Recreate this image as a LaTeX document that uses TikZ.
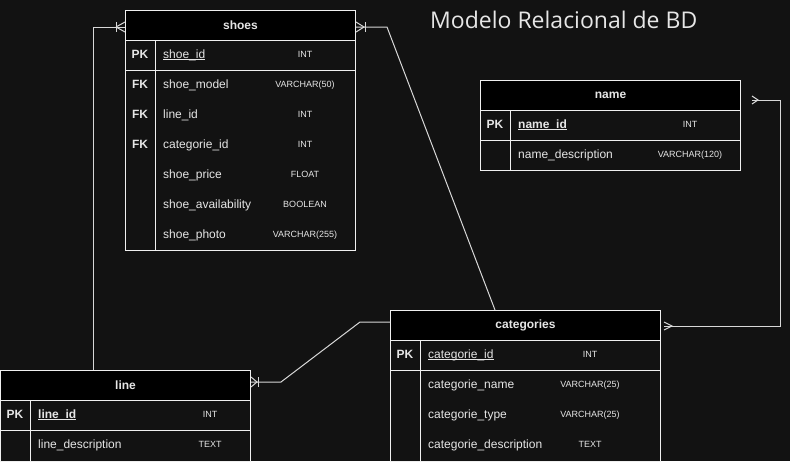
\documentclass[tikz,border=0pt]{standalone}
\usepackage{fontspec}
\setmainfont{Liberation Sans}
\newfontfamily\titlefont{Open Sans}
\usetikzlibrary{calc}
\definecolor{bg}{HTML}{121212}
\definecolor{edge}{HTML}{F0F0F0}
\definecolor{conn}{HTML}{D8D8D8}
\definecolor{txt}{HTML}{E6E6E6}
\tikzset{
  hdr/.style={draw=edge, line width=1pt, fill=black, text=txt, anchor=north west, inner sep=0pt,
    font=\fontsize{12}{14}\selectfont\bfseries},
  bodybox/.style={draw=edge, line width=1pt, fill=bg, anchor=north west, inner sep=0pt},
  keytxt/.style={text=txt, font=\fontsize{12}{14}\selectfont\bfseries, inner sep=0pt,
    text height=9pt, text depth=2pt},
  fld/.style={text=txt, anchor=west, font=\fontsize{12}{14}\selectfont, inner sep=0pt,
    text height=9pt, text depth=2pt},
  typ/.style={text=txt, font=\fontsize{9}{11}\selectfont, inner sep=0pt,
    text height=6.5pt, text depth=1.5pt},
  sep/.style={draw=edge, line width=1pt},
  connline/.style={draw=conn, line width=1pt},
}
\newcommand{\pkf}[1]{\setbox0\hbox{#1}\rlap{\rule[-1.7pt]{\wd0}{0.75pt}}\box0}
\begin{document}
\begin{tikzpicture}[x=1pt,y=-1pt]
\fill[bg] (0,0) rectangle (790,461);
\useasboundingbox (0,0) rectangle (790,461);

% title
\node[text=txt, font=\titlefont\fontsize{23}{26}\selectfont, anchor=west, inner sep=0pt] (title) at (430,20) {Modelo Relacional de BD};

% ---------- shoes ----------
\node[bodybox, minimum width=230pt, minimum height=210pt] (shoesbody) at (125,40) {};
\node[hdr, minimum width=230pt, minimum height=30pt] (shoes) at (125,10) {shoes};
\draw[sep] (125,70) -- (355,70);
\draw[sep] (155,40) -- (155,250);
\node[keytxt] (s1k) at (140,55) {PK};
\node[fld] (s1f) at (163,55) {\pkf{shoe\_id}};
\node[typ] (s1t) at (305,55) {INT};
\node[keytxt] (s2k) at (140,85) {FK};
\node[fld] (s2f) at (163,85) {shoe\_model};
\node[typ] (s2t) at (305,85) {VARCHAR(50)};
\node[keytxt] (s3k) at (140,115) {FK};
\node[fld] (s3f) at (163,115) {line\_id};
\node[typ] (s3t) at (305,115) {INT};
\node[keytxt] (s4k) at (140,145) {FK};
\node[fld] (s4f) at (163,145) {categorie\_id};
\node[typ] (s4t) at (305,145) {INT};
\node[fld] (s5f) at (163,175) {shoe\_price};
\node[typ] (s5t) at (305,175) {FLOAT};
\node[fld] (s6f) at (163,205) {shoe\_availability};
\node[typ] (s6t) at (305,205) {BOOLEAN};
\node[fld] (s7f) at (163,235) {shoe\_photo};
\node[typ] (s7t) at (305,235) {VARCHAR(255)};

% ---------- name ----------
\node[bodybox, minimum width=260pt, minimum height=60pt] (namebody) at (480,110) {};
\node[hdr, minimum width=260pt, minimum height=30pt] (name) at (480,80) {name};
\draw[sep] (480,140) -- (740,140);
\draw[sep] (510,110) -- (510,170);
\node[keytxt] (n1k) at (495,125) {PK};
\node[fld] (n1f) at (518,125) {\bfseries\pkf{name\_id}};
\node[typ] (n1t) at (690,125) {INT};
\node[fld] (n2f) at (518,155) {name\_description};
\node[typ] (n2t) at (690,155) {VARCHAR(120)};

% ---------- categories ----------
\node[bodybox, minimum width=270pt, minimum height=121pt] (catbody) at (390,340) {};
\node[hdr, minimum width=270pt, minimum height=30pt] (categories) at (390,310) {categories};
\draw[sep] (390,370) -- (660,370);
\draw[sep] (420,340) -- (420,461);
\node[keytxt] (c1k) at (405,355) {PK};
\node[fld] (c1f) at (428,355) {\pkf{categorie\_id}};
\node[typ] (c1t) at (590,355) {INT};
\node[fld] (c2f) at (428,385) {categorie\_name};
\node[typ] (c2t) at (590,385) {VARCHAR(25)};
\node[fld] (c3f) at (428,415) {categorie\_type};
\node[typ] (c3t) at (590,415) {VARCHAR(25)};
\node[fld] (c4f) at (428,445) {categorie\_description};
\node[typ] (c4t) at (590,445) {TEXT};

% ---------- line ----------
\node[bodybox, minimum width=250pt, minimum height=61pt] (linebody) at (0,400) {};
\node[hdr, minimum width=250pt, minimum height=30pt] (line) at (0,370) {line};
\draw[sep] (0,430) -- (250,430);
\draw[sep] (30,400) -- (30,461);
\node[keytxt] (l1k) at (15,415) {PK};
\node[fld] (l1f) at (38,415) {\bfseries\pkf{line\_id}};
\node[typ] (l1t) at (210,415) {INT};
\node[fld] (l2f) at (38,445) {line\_description};
\node[typ] (l2t) at (210,445) {TEXT};

% ---------- connectors ----------
% line -> shoes (one-to-many at shoes left)
\coordinate (a1) at ($(line.north west)+(93,0)$);
\coordinate (a2) at ($(shoes.north west)+(0,17)$);
\path[connline] (a1) |- (a2);
\path[connline] ($(a2)+(-9,-5)$) -- ($(a2)+(-9,5)$);
\path[connline] ($(a2)+(-9,0)$) -- ($(a2)+(0,-5)$);
\path[connline] ($(a2)+(-9,0)$) -- ($(a2)+(0,5)$);

% shoes right -> categories top
\coordinate (b1) at ($(shoes.north east)+(0,17)$);
\coordinate (b2) at ($(b1)+(31,0)$);
\coordinate (b3) at ($(categories.north west)+(105,0)$);
\path[connline] (b1) -- (b2) -- (b3);
\path[connline] ($(b1)+(0,-5)$) -- ($(b1)+(8,0)$) -- ($(b1)+(0,5)$);
\path[connline] ($(b1)+(9,-5)$) -- ($(b1)+(9,5)$);

% line right -> categories left
\coordinate (d1) at ($(line.north east)+(0,12)$);
\coordinate (d2) at ($(d1)+(30,0)$);
\coordinate (d3) at ($(categories.north west)+(-30,12)$);
\coordinate (d4) at ($(categories.north west)+(0,12)$);
\path[connline] (d1) -- (d2) -- (d3) -- (d4);
\path[connline] ($(d1)+(0,-5)$) -- ($(d1)+(6,0)$) -- ($(d1)+(0,5)$);
\path[connline] ($(d1)+(7,-5)$) -- ($(d1)+(7,5)$);

% categories right -> name right
\coordinate (e1) at ($(categories.north east)+(3,16)$);
\coordinate (e2) at (780,326);
\coordinate (e3) at ($(name.north east)+(17,20)$);
\path[connline] (e1) -- (e2) |- (e3);
\path[connline] ($(e1)+(0,-4)$) -- ($(e1)+(8,0)$) -- ($(e1)+(0,4)$);
\coordinate (e4) at ($(name.north east)+(11,20)$);
\path[connline] (e4) -- (e3);
\path[connline] ($(e4)+(0,-4)$) -- ($(e4)+(6,0)$) -- ($(e4)+(0,4)$);
\end{tikzpicture}
\end{document}
